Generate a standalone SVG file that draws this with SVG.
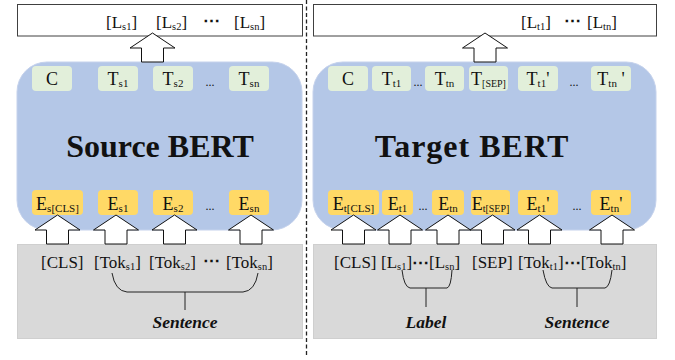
<svg xmlns="http://www.w3.org/2000/svg" xmlns:xlink="http://www.w3.org/1999/xlink" width="675" height="360" viewBox="0 0 675 360">
  <style>
    text { font-family: "Liberation Serif", "Times New Roman", serif; fill: #111; }
    .out { fill: #fff; stroke: #404040; stroke-width: 1; }
    .bert { fill: #b4c7e7; stroke: #c5d2ec; stroke-width: 1; }
    .inp { fill: #d9d9d9; stroke: #cfcfcf; stroke-width: 1; }
    .tbox { fill: #e2efda; }
    .ebox { fill: #ffd966; }
    .lbl { font-size: 18px; }
    .tok { font-size: 17px; }
    .title { font-size: 32px; font-weight: bold; }
    .cap { font-size: 17.5px; font-weight: bold; font-style: italic; }
    .dots { font-size: 12px; }
    .brace { fill: none; stroke: #222; stroke-width: 1; }
    .arrow { fill: #fff; stroke: #111; stroke-width: 1; stroke-linejoin: miter; }
  </style>
  <defs>
    <!-- block up-arrow, tip at (0,0) -->
    <path id="upArrow" class="arrow" d="M0,0 L22.5,15 L11,15 L11,29 L-11,29 L-11,15 L-22.5,15 Z"/>
  </defs>

  <!-- panel divider -->
  <line x1="306.5" y1="0" x2="306.5" y2="355" stroke="#222" stroke-width="1.3" stroke-dasharray="4,2.5"/>

  <!-- ===== Source side ===== -->
  <g id="source-output">
    <rect class="out" x="17.5" y="4.5" width="285" height="31.5"/>
    <text class="tok" x="106" y="28">[L<tspan font-size="10.5" dy="2">s1</tspan><tspan dy="-2">]</tspan></text>
    <text class="tok" x="156" y="28">[L<tspan font-size="10.5" dy="2">s2</tspan><tspan dy="-2">]</tspan></text>
    <text class="tok" x="211" y="26" text-anchor="middle" font-weight="bold">⋯</text>
    <text class="tok" x="234" y="28">[L<tspan font-size="10.5" dy="2">sn</tspan><tspan dy="-2">]</tspan></text>
  </g>

  <g id="source-bert">
    <rect class="bert" x="17" y="62" width="285" height="168" rx="30"/>
    <text class="title" x="160" y="157" text-anchor="middle">Source BERT</text>
  </g>

  <g id="source-T">
    <rect class="tbox" x="32" y="66" width="40" height="25" rx="4"/>
    <text class="lbl" x="52" y="85" text-anchor="middle">C</text>
    <rect class="tbox" x="98" y="66" width="40" height="25" rx="4"/>
    <text class="lbl" x="118" y="85" text-anchor="middle">T<tspan font-size="11" dy="2">s1</tspan></text>
    <rect class="tbox" x="153" y="66" width="40" height="25" rx="4"/>
    <text class="lbl" x="173" y="85" text-anchor="middle">T<tspan font-size="11" dy="2">s2</tspan></text>
    <text class="dots" x="210" y="86" text-anchor="middle">...</text>
    <rect class="tbox" x="229" y="66" width="40" height="25" rx="4"/>
    <text class="lbl" x="249" y="85" text-anchor="middle">T<tspan font-size="11" dy="2">sn</tspan></text>
  </g>

  <g id="source-E">
    <rect class="ebox" x="32" y="190" width="51" height="25" rx="4"/>
    <text class="lbl" x="57.5" y="210" text-anchor="middle">E<tspan font-size="11" dy="2">s[CLS]</tspan></text>
    <rect class="ebox" x="98" y="190" width="40" height="25" rx="4"/>
    <text class="lbl" x="118" y="210" text-anchor="middle">E<tspan font-size="11" dy="2">s1</tspan></text>
    <rect class="ebox" x="153" y="190" width="40" height="25" rx="4"/>
    <text class="lbl" x="173" y="210" text-anchor="middle">E<tspan font-size="11" dy="2">s2</tspan></text>
    <text class="dots" x="210" y="210" text-anchor="middle">...</text>
    <rect class="ebox" x="229" y="190" width="40" height="25" rx="4"/>
    <text class="lbl" x="249" y="210" text-anchor="middle">E<tspan font-size="11" dy="2">sn</tspan></text>
  </g>

  <g id="source-input">
    <rect class="inp" x="17.5" y="244.5" width="285" height="94"/>
    <text class="tok" x="41" y="268">[CLS]</text>
    <text class="tok" x="94" y="268">[Tok<tspan font-size="10.5" dy="2">s1</tspan><tspan dy="-2">]</tspan></text>
    <text class="tok" x="149" y="268">[Tok<tspan font-size="10.5" dy="2">s2</tspan><tspan dy="-2">]</tspan></text>
    <text class="tok" x="211.5" y="266" text-anchor="middle" font-weight="bold">⋯</text>
    <text class="tok" x="226" y="268">[Tok<tspan font-size="10.5" dy="2">sn</tspan><tspan dy="-2">]</tspan></text>
    <path class="brace" d="M112,273 Q115,291 127,292 H243 Q255,291 258,273 M185,292 V310"/>
    <text class="cap" x="185" y="328" text-anchor="middle">Sentence</text>
  </g>

  <!-- ===== Target side ===== -->
  <g id="target-output">
    <rect class="out" x="313.5" y="4.5" width="343" height="31.5"/>
    <text class="tok" x="521" y="28">[L<tspan font-size="10.5" dy="2">t1</tspan><tspan dy="-2">]</tspan></text>
    <text class="tok" x="572" y="26" text-anchor="middle" font-weight="bold">⋯</text>
    <text class="tok" x="587" y="28">[L<tspan font-size="10.5" dy="2">tn</tspan><tspan dy="-2">]</tspan></text>
  </g>

  <g id="target-bert">
    <rect class="bert" x="313" y="62" width="343" height="168" rx="30"/>
    <text class="title" x="472" y="157" text-anchor="middle" letter-spacing="1">Target BERT</text>
  </g>

  <g id="target-T">
    <rect class="tbox" x="328" y="66" width="40" height="25" rx="4"/>
    <text class="lbl" x="348" y="85" text-anchor="middle">C</text>
    <rect class="tbox" x="372" y="66" width="39" height="25" rx="4"/>
    <text class="lbl" x="391.5" y="85" text-anchor="middle">T<tspan font-size="11" dy="2">t1</tspan></text>
    <text class="dots" x="418" y="86" text-anchor="middle">...</text>
    <rect class="tbox" x="425" y="66" width="39" height="25" rx="4"/>
    <text class="lbl" x="444.5" y="85" text-anchor="middle">T<tspan font-size="11" dy="2">tn</tspan></text>
    <rect class="tbox" x="469" y="66" width="39" height="25" rx="4"/>
    <text class="lbl" x="488.5" y="85" text-anchor="middle">T<tspan font-size="10" dy="2">[SEP]</tspan></text>
    <rect class="tbox" x="518" y="66" width="40" height="25" rx="4"/>
    <text class="lbl" x="538" y="85" text-anchor="middle">T<tspan font-size="11" dy="2">t1</tspan><tspan dy="-2">'</tspan></text>
    <text class="dots" x="574" y="86" text-anchor="middle">...</text>
    <rect class="tbox" x="591" y="66" width="40" height="25" rx="4"/>
    <text class="lbl" x="611" y="85" text-anchor="middle">T<tspan font-size="11" dy="2">tn</tspan><tspan dy="-2"> '</tspan></text>
  </g>

  <g id="target-E">
    <rect class="ebox" x="328" y="190" width="51" height="25" rx="4"/>
    <text class="lbl" x="353.5" y="210" text-anchor="middle">E<tspan font-size="11" dy="2">t[CLS]</tspan></text>
    <rect class="ebox" x="382" y="190" width="31" height="25" rx="4"/>
    <text class="lbl" x="397.5" y="210" text-anchor="middle">E<tspan font-size="11" dy="2">t1</tspan></text>
    <text class="dots" x="423" y="210" text-anchor="middle">...</text>
    <rect class="ebox" x="432" y="190" width="32" height="25" rx="4"/>
    <text class="lbl" x="448" y="210" text-anchor="middle">E<tspan font-size="11" dy="2">tn</tspan></text>
    <rect class="ebox" x="471" y="190" width="39" height="25" rx="4"/>
    <text class="lbl" x="490.5" y="210" text-anchor="middle">E<tspan font-size="10" dy="2">t[SEP]</tspan></text>
    <rect class="ebox" x="518" y="190" width="40" height="25" rx="4"/>
    <text class="lbl" x="538" y="210" text-anchor="middle">E<tspan font-size="11" dy="2">t1</tspan><tspan dy="-2">'</tspan></text>
    <text class="dots" x="577" y="210" text-anchor="middle">...</text>
    <rect class="ebox" x="591" y="190" width="40" height="25" rx="4"/>
    <text class="lbl" x="611" y="210" text-anchor="middle">E<tspan font-size="11" dy="2">tn</tspan><tspan dy="-2">'</tspan></text>
  </g>

  <g id="target-input">
    <rect class="inp" x="313.5" y="244.5" width="343" height="94"/>
    <text class="tok" x="334" y="268">[CLS]</text>
    <text class="tok" x="381" y="268">[L<tspan font-size="10.5" dy="2">s1</tspan><tspan dy="-2">]</tspan><tspan font-weight="bold">⋯</tspan>[L<tspan font-size="10.5" dy="2">sn</tspan><tspan dy="-2">]</tspan></text>
    <text class="tok" x="472" y="268">[SEP]</text>
    <text class="tok" x="518" y="268">[Tok<tspan font-size="10.5" dy="2">t1</tspan><tspan dy="-2">]</tspan><tspan font-weight="bold">⋯</tspan>[Tok<tspan font-size="10.5" dy="2">tn</tspan><tspan dy="-2">]</tspan></text>
    <path class="brace" d="M402,270 Q404,287 410,288 H447 Q451,287 452,270 M426,288 V307"/>
    <text class="cap" x="426" y="328" text-anchor="middle">Label</text>
    <path class="brace" d="M543,270 Q546,287 552,288 H605 Q610,287 612,270 M577,288 V307"/>
    <text class="cap" x="577" y="328" text-anchor="middle">Sentence</text>
  </g>

  <!-- ===== connectors ===== -->
  <g id="connectors">
    <use xlink:href="#upArrow" x="152.5" y="33"/>
    <use xlink:href="#upArrow" x="485" y="33"/>
    <use xlink:href="#upArrow" x="57.5" y="215"/>
    <use xlink:href="#upArrow" x="116" y="215"/>
    <use xlink:href="#upArrow" x="174.5" y="215"/>
    <use xlink:href="#upArrow" x="251" y="215"/>
    <use xlink:href="#upArrow" x="353.5" y="215"/>
    <use xlink:href="#upArrow" x="400" y="215"/>
    <use xlink:href="#upArrow" x="448" y="215"/>
    <use xlink:href="#upArrow" x="492.5" y="215"/>
    <use xlink:href="#upArrow" x="539.5" y="215"/>
    <use xlink:href="#upArrow" x="612" y="215"/>
  </g>
</svg>
